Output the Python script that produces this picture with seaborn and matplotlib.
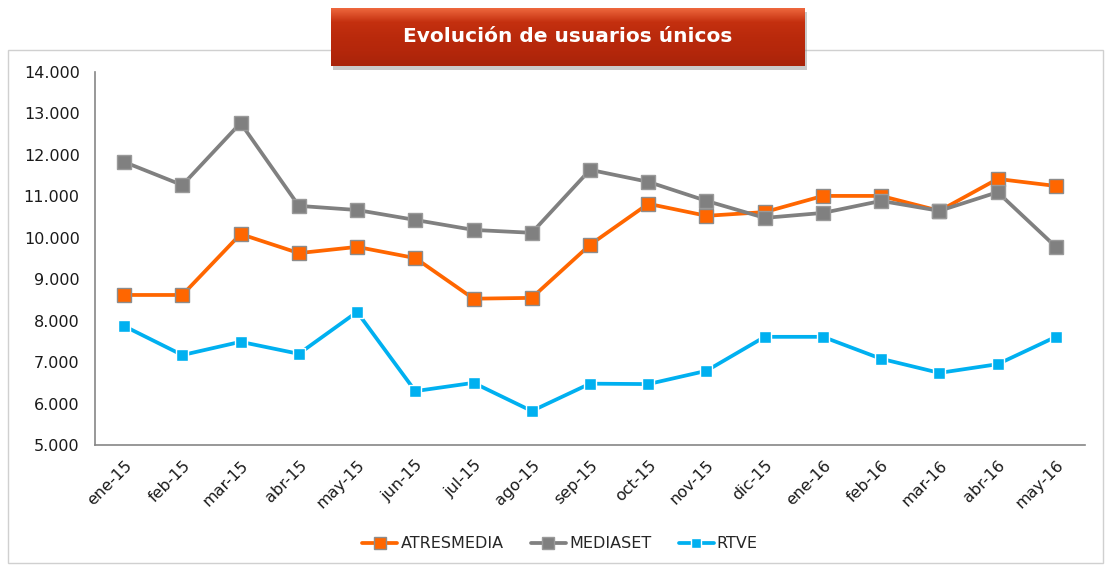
import pandas as pd
import numpy as np
import matplotlib
matplotlib.use("Agg")
import matplotlib.pyplot as plt
import seaborn as sns
from matplotlib.patches import Rectangle
from matplotlib.ticker import FuncFormatter

meses = ["ene-15", "feb-15", "mar-15", "abr-15", "may-15", "jun-15", "jul-15", "ago-15",
         "sep-15", "oct-15", "nov-15", "dic-15", "ene-16", "feb-16", "mar-16", "abr-16", "may-16"]
atresmedia = [8620, 8620, 10090, 9630, 9780, 9510, 8530, 8550, 9830, 10820, 10530, 10620,
              11010, 11010, 10650, 11420, 11250]
mediaset = [11830, 11270, 12770, 10770, 10670, 10430, 10190, 10120, 11640, 11350, 10890, 10480,
            10600, 10890, 10650, 11100, 9780]
rtve = [7870, 7170, 7490, 7200, 8210, 6300, 6500, 5820, 6480, 6470, 6790, 7610,
        7610, 7080, 6740, 6950, 7610]

series = {"ATRESMEDIA": atresmedia, "MEDIASET": mediaset, "RTVE": rtve}
colores = {"ATRESMEDIA": "#ff6600", "MEDIASET": "#808080", "RTVE": "#00b0f0"}
bordes = {"ATRESMEDIA": "#8c8c8c", "MEDIASET": "#9a9a9a", "RTVE": "#ffffff"}
tamanos = {"ATRESMEDIA": 10, "MEDIASET": 10, "RTVE": 8.5}

df = pd.DataFrame({"x": np.tile(np.arange(len(meses)), 3),
                   "valor": atresmedia + mediaset + rtve,
                   "serie": np.repeat(list(series.keys()), len(meses))})

sns.set_style("white")
plt.rcParams["font.family"] = ["DejaVu Sans"]

fig = plt.figure(figsize=(11.05, 5.66), dpi=100)
ax = fig.add_axes([95 / 1105, 1 - 445 / 566, 990 / 1105, 373 / 566])

for nombre in series:
    sns.lineplot(data=df[df.serie == nombre], x="x", y="valor", ax=ax,
                 color=colores[nombre], linewidth=2.7, marker="s",
                 markersize=tamanos[nombre], markeredgecolor=bordes[nombre],
                 markeredgewidth=1.0, label=nombre, legend=False)

ax.set_xlim(-0.5, len(meses) - 0.5)
ax.set_ylim(5000, 14000)
ax.set_yticks(np.arange(5000, 14001, 1000))
ax.yaxis.set_major_formatter(FuncFormatter(lambda v, p: f"{int(v):,}".replace(",", ".")))
ax.set_xticks(np.arange(len(meses)))
ax.set_xticklabels(meses, rotation=45, ha="right", rotation_mode="anchor")
ax.set_xticks(np.arange(len(meses) + 1) - 0.5, minor=True)
ax.tick_params(axis="x", which="major", length=0, pad=9, labelsize=11.5, colors="#1a1a1a")
ax.tick_params(axis="x", which="minor", length=5, color="#868686", width=1)
ax.tick_params(axis="y", length=5, width=1, labelsize=11.5, pad=6, colors="#868686",
               labelcolor="#1a1a1a")
ax.set_xlabel("")
ax.set_ylabel("")
for s in ["top", "right"]:
    ax.spines[s].set_visible(False)
for s in ["left", "bottom"]:
    ax.spines[s].set_color("#868686")
    ax.spines[s].set_linewidth(1.2)

handles, labels = ax.get_legend_handles_labels()
fig.legend(handles, labels, loc="center", bbox_to_anchor=(560 / 1105, 1 - 544 / 566), ncol=3,
           frameon=False, fontsize=11.5, handlelength=2.2, columnspacing=1.7,
           handletextpad=0.2, markerscale=0.8)

# marco exterior
fig.patches.append(Rectangle((8 / 1105, 3 / 566), 1095 / 1105, 513 / 566, transform=fig.transFigure,
                             fill=False, edgecolor="#d0d0d0", linewidth=1, zorder=0))

# caja del titulo con degradado
x0, y0, w, h = 331 / 1105, 1 - 66 / 566, 474 / 1105, 58 / 566
fig.patches.append(Rectangle((x0 + 2 / 1105, y0 - 4 / 566), w, h, transform=fig.transFigure,
                             facecolor="#8a8a8a", alpha=0.45, edgecolor="none", zorder=5))
tax = fig.add_axes([x0, y0, w, h], zorder=6)
grad = np.linspace(0, 1, 60).reshape(-1, 1)
cmap = matplotlib.colors.LinearSegmentedColormap.from_list(
    "t", ["#f06a40", "#c4300f", "#ba2a0c", "#b4270b", "#a9240a"])
tax.imshow(grad, aspect="auto", cmap=cmap, extent=[0, 1, 0, 1])
tax.set_axis_off()
tax.text(0.5, 0.5, "Evolución de usuarios únicos", color="white", fontsize=14.5,
         fontweight="bold", ha="center", va="center", transform=tax.transAxes)

fig.savefig("out.png", dpi=100)
